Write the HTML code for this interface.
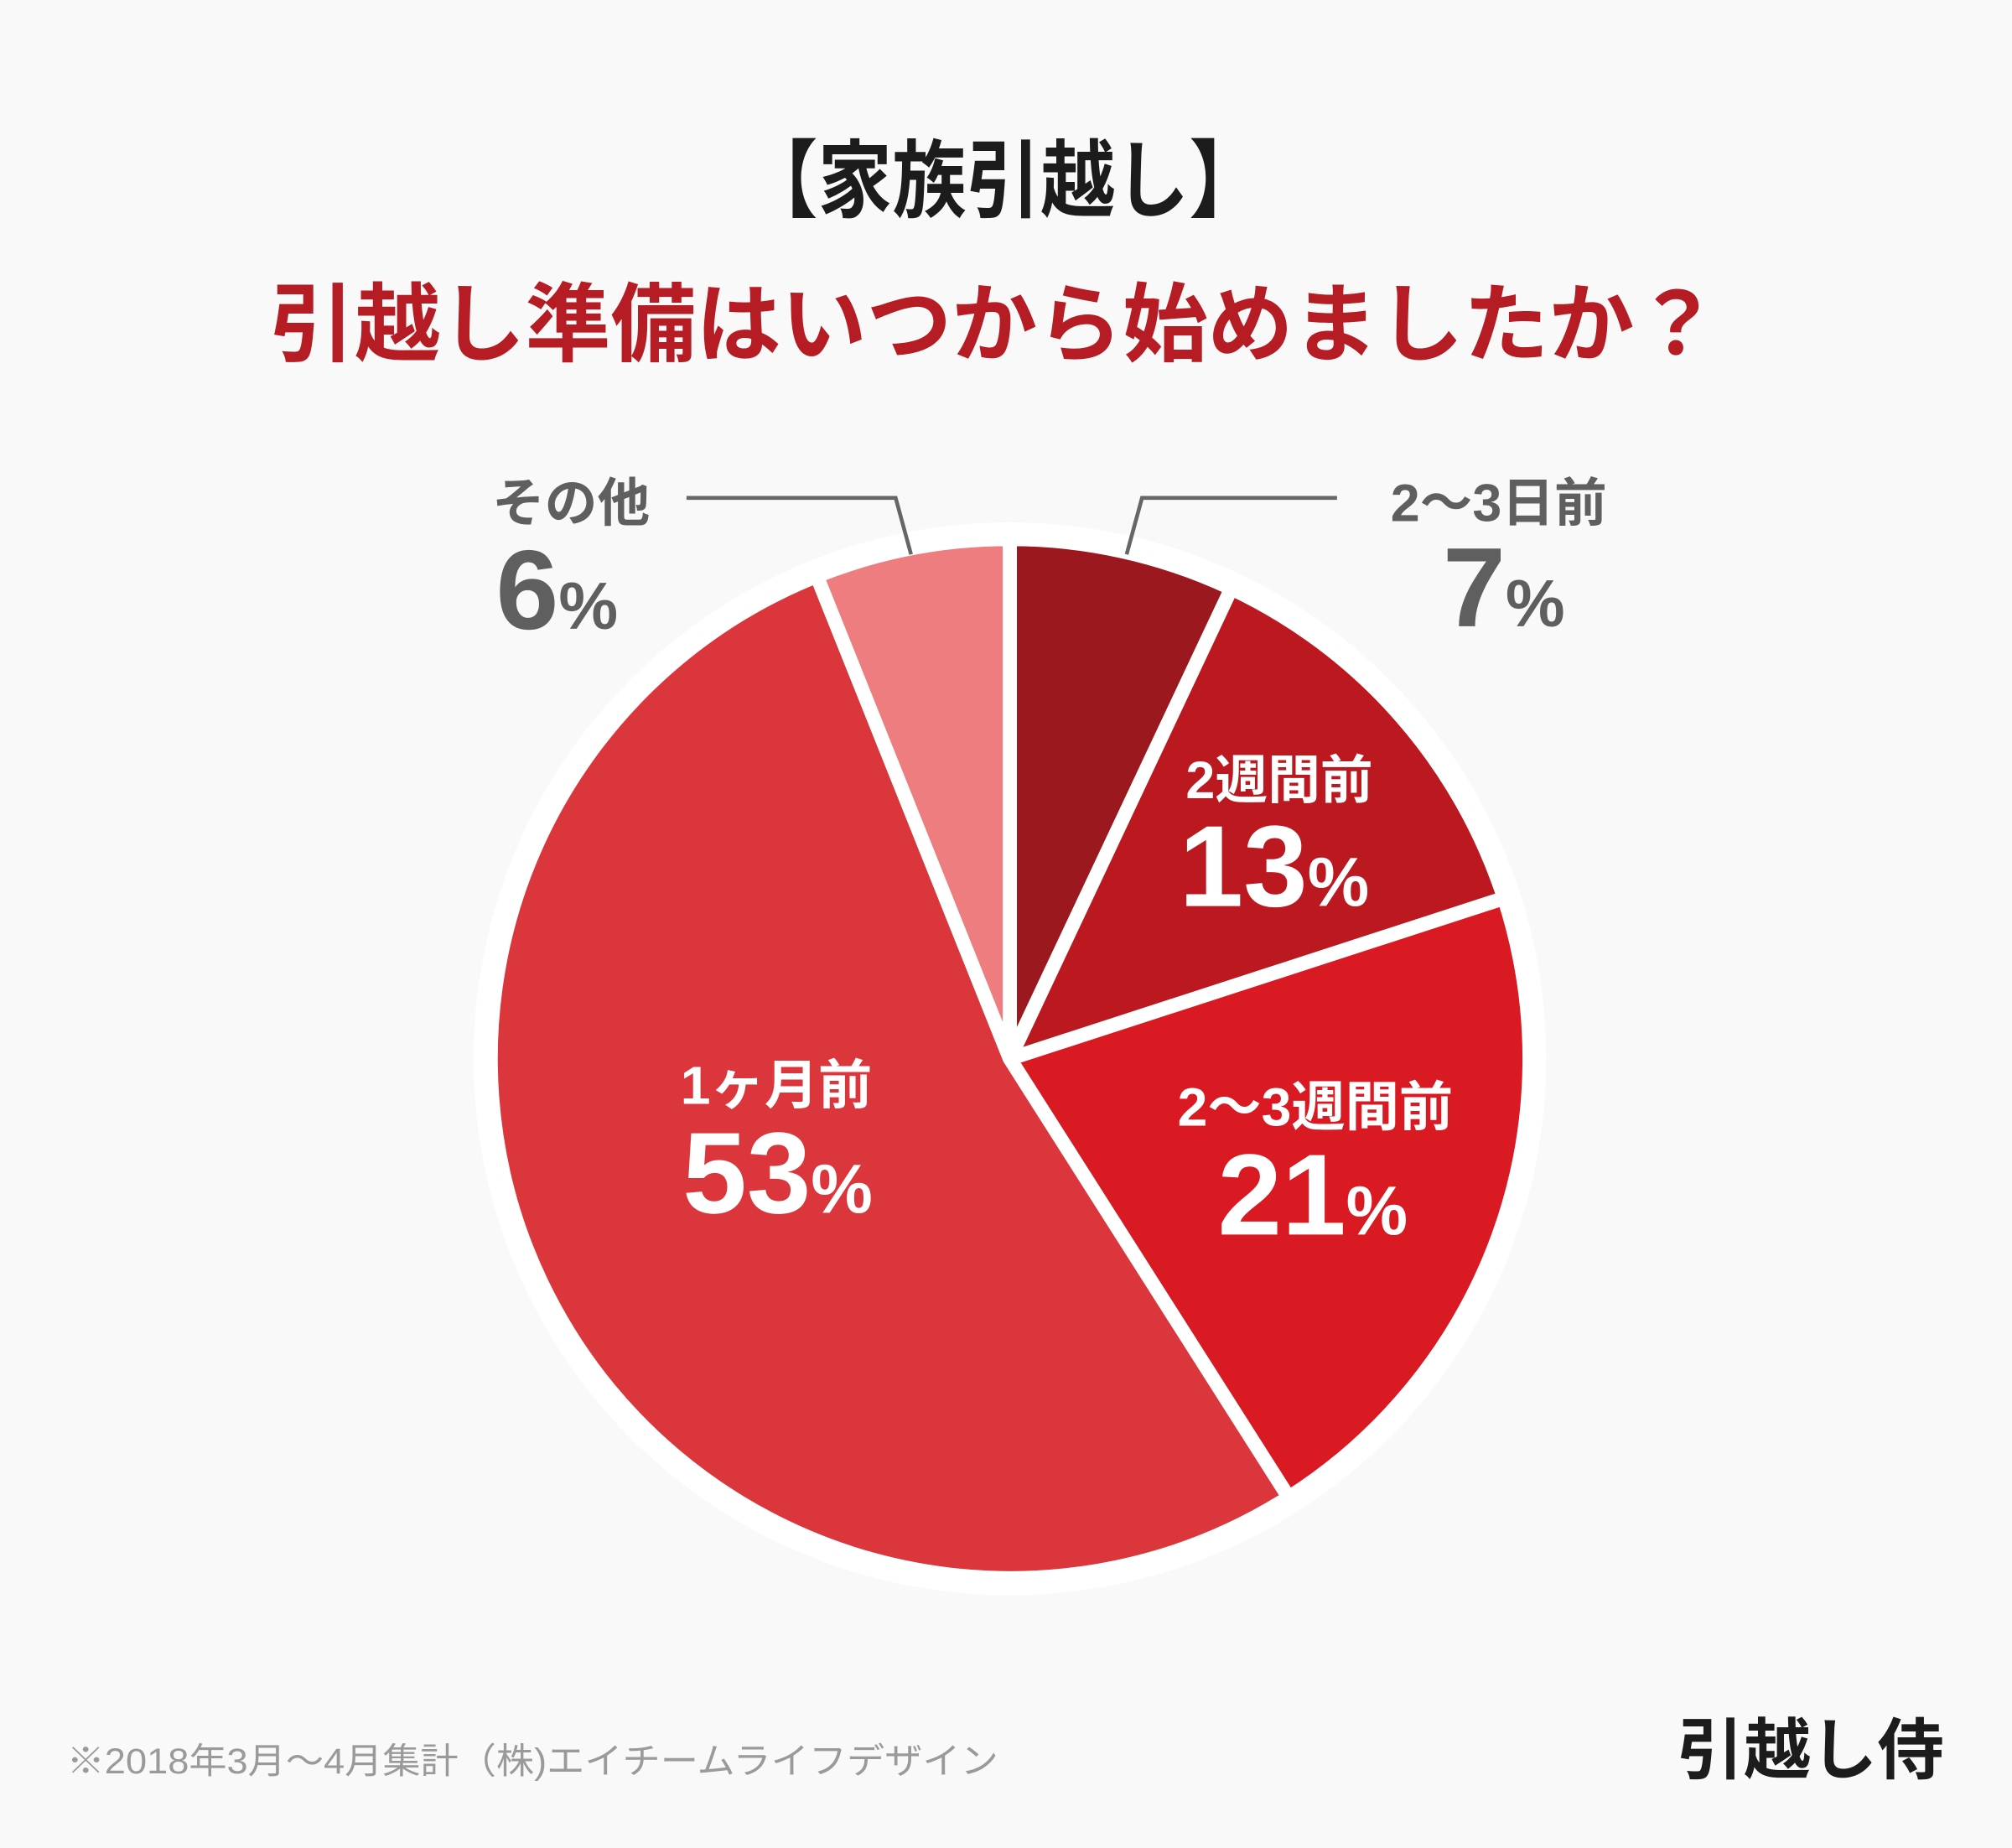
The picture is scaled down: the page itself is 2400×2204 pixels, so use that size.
<!DOCTYPE html>
<html><head><meta charset="utf-8"><style>
html,body{margin:0;padding:0;background:#f9f9f9;}
svg{display:block;}
text{font-family:"Liberation Sans","Noto Sans CJK JP",sans-serif;font-weight:bold;}
</style></head><body>
<svg width="2400" height="2204" viewBox="0 0 1568 1440" xmlns="http://www.w3.org/2000/svg">
<rect width="1568" height="1440" fill="#f9f9f9"/>
<text x="782" y="164" font-size="66" text-anchor="middle" fill="#1c1c1c" textLength="405" lengthAdjust="spacingAndGlyphs">【家族引越し】</text>
<text x="775" y="276" font-size="67" text-anchor="middle" fill="#b51c23" textLength="1130" lengthAdjust="spacingAndGlyphs">引越し準備はいつから始めましたか？</text>

<circle cx="787" cy="825" r="418" fill="#ffffff"/>
<g stroke="#ffffff" stroke-width="11" stroke-linejoin="round">
<path d="M787,825 L787,420 A405,405 0 0 1 959.6,458.6 Z" fill="#9b181e"/>
<path d="M787,825 L959.6,458.6 A405,405 0 0 1 1172.2,699.9 Z" fill="#bb1820"/>
<path d="M787,825 L1172.2,699.9 A405,405 0 0 1 1004.3,1166.8 Z" fill="#da1a22"/>
<path d="M787,825 L1004.3,1166.8 A405,405 0 1 1 636.6,448.9 Z" fill="#dc363d"/>
<path d="M787,825 L636.6,448.9 A405,405 0 0 1 787,420 Z" fill="#ee7d80"/>
</g>

<polyline points="535,388 698,388 710,432" fill="none" stroke="#666" stroke-width="3"/>
<polyline points="1042,388 890,388 878,432" fill="none" stroke="#666" stroke-width="3"/>

<text x="445" y="406" font-size="41" text-anchor="middle" fill="#5f5f5f">その他</text>
<text x="434" y="490" text-anchor="middle" fill="#5f5f5f"><tspan font-size="88">6</tspan><tspan font-size="52">%</tspan></text>
<text x="1168" y="406" font-size="41" text-anchor="middle" fill="#5f5f5f">2～3日前</text>
<text x="1172" y="488" text-anchor="middle" fill="#5f5f5f"><tspan font-size="88">7</tspan><tspan font-size="52">%</tspan></text>

<text x="997" y="622" font-size="41" text-anchor="middle" fill="#fff">2週間前</text>
<text x="993" y="706" text-anchor="middle" fill="#fff"><tspan font-size="90">13</tspan><tspan font-size="54">%</tspan></text>
<text x="1025" y="877" font-size="42" text-anchor="middle" fill="#fff">2～3週間前</text>
<text x="1023" y="962" text-anchor="middle" fill="#fff"><tspan font-size="90">21</tspan><tspan font-size="54">%</tspan></text>
<text x="605" y="860" font-size="42" text-anchor="middle" fill="#fff">1ヶ月前</text>
<text x="606" y="945" text-anchor="middle" fill="#fff"><tspan font-size="90">53</tspan><tspan font-size="54">%</tspan></text>

<text x="52" y="1382" font-size="28" style="font-weight:normal" fill="#9a9a9a" textLength="726" lengthAdjust="spacingAndGlyphs">※2018年3月～4月集計（株)エイチームライフデザイン</text>
<text x="1515" y="1382" font-size="52" text-anchor="end" fill="#1c1c1c">引越し侍</text>
</svg>
</body></html>
